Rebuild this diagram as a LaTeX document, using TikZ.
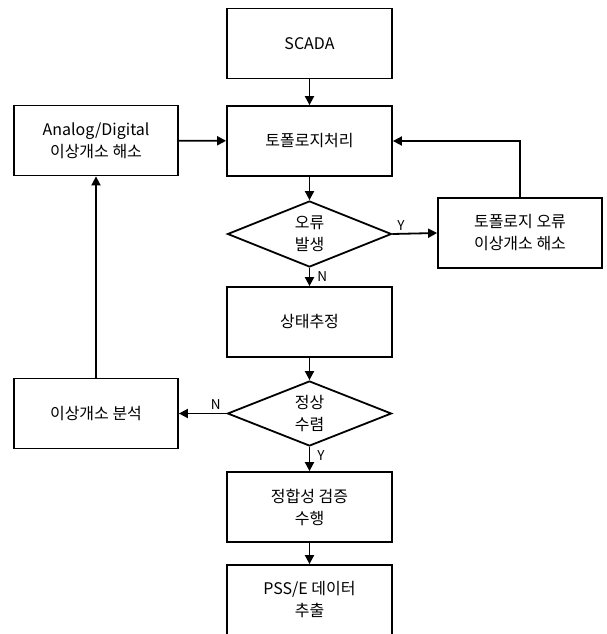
\documentclass[tikz,border=0pt]{standalone}
\usepackage{fontspec}
\setmainfont{Noto Sans CJK KR}
\usetikzlibrary{shapes.geometric,arrows.meta}

\begin{document}
\begin{tikzpicture}[x=1pt, y=-1pt,
										line width = 1.8pt,
										block/.style={draw, rectangle, minimum width=165pt, minimum height=70pt, align=center, inner sep=2pt, font=\fontsize{16}{22}\selectfont},
										decision/.style={draw, diamond, aspect=2.5, inner sep=0pt, minimum width=164pt, minimum height=66pt, align=center, font=\fontsize{16}{22}\selectfont},
										flow/.style={-{Triangle[length=9pt, width=9pt]}},
										answer/.style={font=\fontsize{13.5}{15}\selectfont, inner sep=3pt}]

		\useasboundingbox (0,0) rectangle (607,634);

		\node [block] (scada) at (309.5,43.5) {SCADA};
		\node [block] (topo) at (309.5,141) {토폴로지처리};
		\node [block, minimum width=164pt] (analog) at (96,140.5) {Analog/Digital\\이상개소 해소};
		\node [decision] (err) at (309.5,234) {오류\\발생};
		\node [block, minimum width=164pt] (topofix) at (520,233) {토폴로지 오류\\이상개소 해소};
		\node [block] (est) at (309.5,322) {상태추정};
		\node [decision, minimum height=65pt] (conv) at (309.5,413.5) {정상\\수렴};
		\node [block, minimum width=164pt] (anal) at (96,413.5) {이상개소 분석};
		\node [block] (check) at (309.5,507) {정합성 검증\\수행};
		\node [block, minimum height=70pt] (pss) at (309.5,600) {PSS/E 데이터\\추출};

		\draw [flow] (scada) -- (topo);
		\draw [flow] (analog) -- (topo);
		\draw [flow] (topo) -- (err);
		\draw [flow] (err.east) -- node [answer, pos=0, above right, xshift=1pt] {Y} (topofix.west);
		\draw [flow] (topofix.north) |- (topo.east);
		\draw [flow] (err.south) -- node [answer, pos=0, below right, xshift=4pt] {N} (est.north);
		\draw [flow] (est) -- (conv);
		\draw [flow] (conv.west) -- node [answer, pos=0, above left, xshift=-2pt] {N} (anal.east);
		\draw [flow] (conv.south) -- node [answer, pos=0, below right, xshift=4pt] {Y} (check.north);
		\draw [flow] (anal) -- (analog);
		\draw [flow] (check) -- (pss);

\end{tikzpicture}
\end{document}
